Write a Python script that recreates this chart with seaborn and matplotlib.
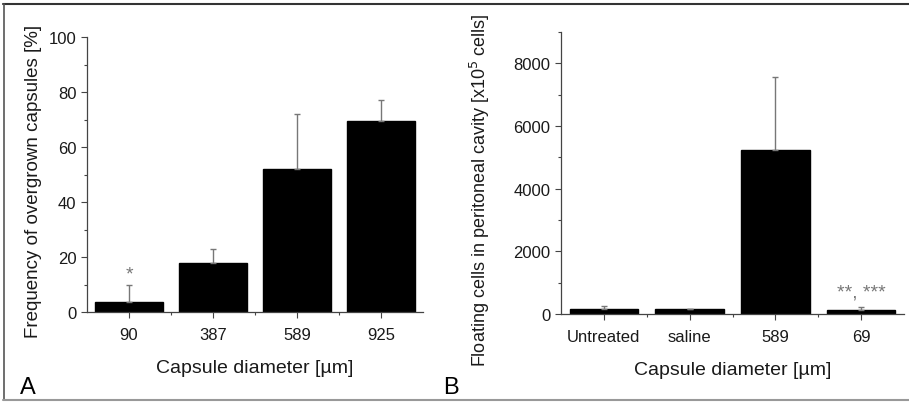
import numpy as np
import pandas as pd
import matplotlib
matplotlib.use("Agg")
import matplotlib.pyplot as plt
from matplotlib.ticker import MultipleLocator, FixedLocator
from matplotlib.lines import Line2D
import seaborn as sns

# ---- data ----
a_categories = ["90", "387", "589", "925"]
a_values = [3.5, 18, 52, 69.5]
a_errors = [6.5, 5, 20, 7.5]

b_categories = ["Untreated", "saline", "589", "69"]
b_values = [170, 150, 5250, 120]
b_errors = [100, 25, 2300, 110]

sns.set_theme(style="ticks")
plt.rcParams['font.family'] = ['Liberation Sans', 'DejaVu Sans']

fig = plt.figure(figsize=(9.09, 4.06), dpi=100)
W, H = 909, 406

def axpos(x0, x1, ytop, ybot):
    return [x0 / W, 1 - ybot / H, (x1 - x0) / W, (ybot - ytop) / H]

axA = fig.add_axes(axpos(87, 423, 38, 313))
axB = fig.add_axes(axpos(561, 904, 33, 315))

txtc = "#1a1a1a"
spc = "#444444"

def draw(ax, cats, vals, errs, ylim, major, minor, ylabel, ylsize):
    df = pd.DataFrame({"cat": cats, "val": vals})
    sns.barplot(data=df, x="cat", y="val", ax=ax, color="black",
                edgecolor="black", width=0.8, errorbar=None, saturation=1)
    x = np.arange(len(cats))
    ax.errorbar(x, vals, yerr=[np.zeros(len(vals)), errs], fmt="none",
                ecolor="#777777", elinewidth=1.0, capsize=2.5, capthick=1.0,
                zorder=3)
    ax.set_xlim(-0.5, len(cats) - 0.5)
    ax.set_ylim(*ylim)
    ax.yaxis.set_major_locator(MultipleLocator(major))
    ax.yaxis.set_minor_locator(MultipleLocator(minor))
    ax.xaxis.set_minor_locator(FixedLocator(np.arange(len(cats) - 1) + 0.5))
    for s in ["top", "right"]:
        ax.spines[s].set_visible(False)
    for s in ["left", "bottom"]:
        ax.spines[s].set_color(spc)
        ax.spines[s].set_linewidth(0.9)
    ax.tick_params(which="major", direction="out", length=4, width=0.8,
                   color=spc, labelcolor=txtc, labelsize=12)
    ax.tick_params(which="minor", direction="out", length=2.5, width=0.8,
                   color=spc)
    ax.tick_params(axis="x", pad=7)
    ax.set_xlabel("Capsule diameter [µm]", fontsize=14, color=txtc, labelpad=12)
    ax.set_ylabel(ylabel, fontsize=ylsize, color=txtc)

draw(axA, a_categories, a_values, a_errors, (0, 100), 20, 10,
     "Frequency of overgrown capsules [%]", 13.5)
draw(axB, b_categories, b_values, b_errors, (0, 9000), 2000, 1000,
     "Floating cells in peritoneal cavity [x10$^5$ cells]", 13)

axA.yaxis.set_label_coords(-0.135, 0.48)
axB.yaxis.set_label_coords(-0.2, 0.443)

axA.text(0, 14, "*", ha="center", va="center", fontsize=14, color="#777777")
axB.text(3, 700, "**, ***", ha="center", va="center", fontsize=14,
         color="#777777")

fig.text(20 / W, 1 - 388 / H, "A", fontsize=17, color="black", va="center",
         ha="left")
fig.text(443 / W, 1 - 388 / H, "B", fontsize=17, color="black", va="center",
         ha="left")

# frame around figure
fig.add_artist(Line2D([3 / W, 1], [1 - 5 / H, 1 - 5 / H], color="#333333",
                      lw=1.5, transform=fig.transFigure))
fig.add_artist(Line2D([4 / W, 4 / W], [1 - 5 / H, 1 - 401 / H],
                      color="#555555", lw=1.2, transform=fig.transFigure))
fig.add_artist(Line2D([3 / W, 1], [1 - 401 / H, 1 - 401 / H],
                      color="#999999", lw=1.5, transform=fig.transFigure))

fig.savefig("out.png", dpi=100)
